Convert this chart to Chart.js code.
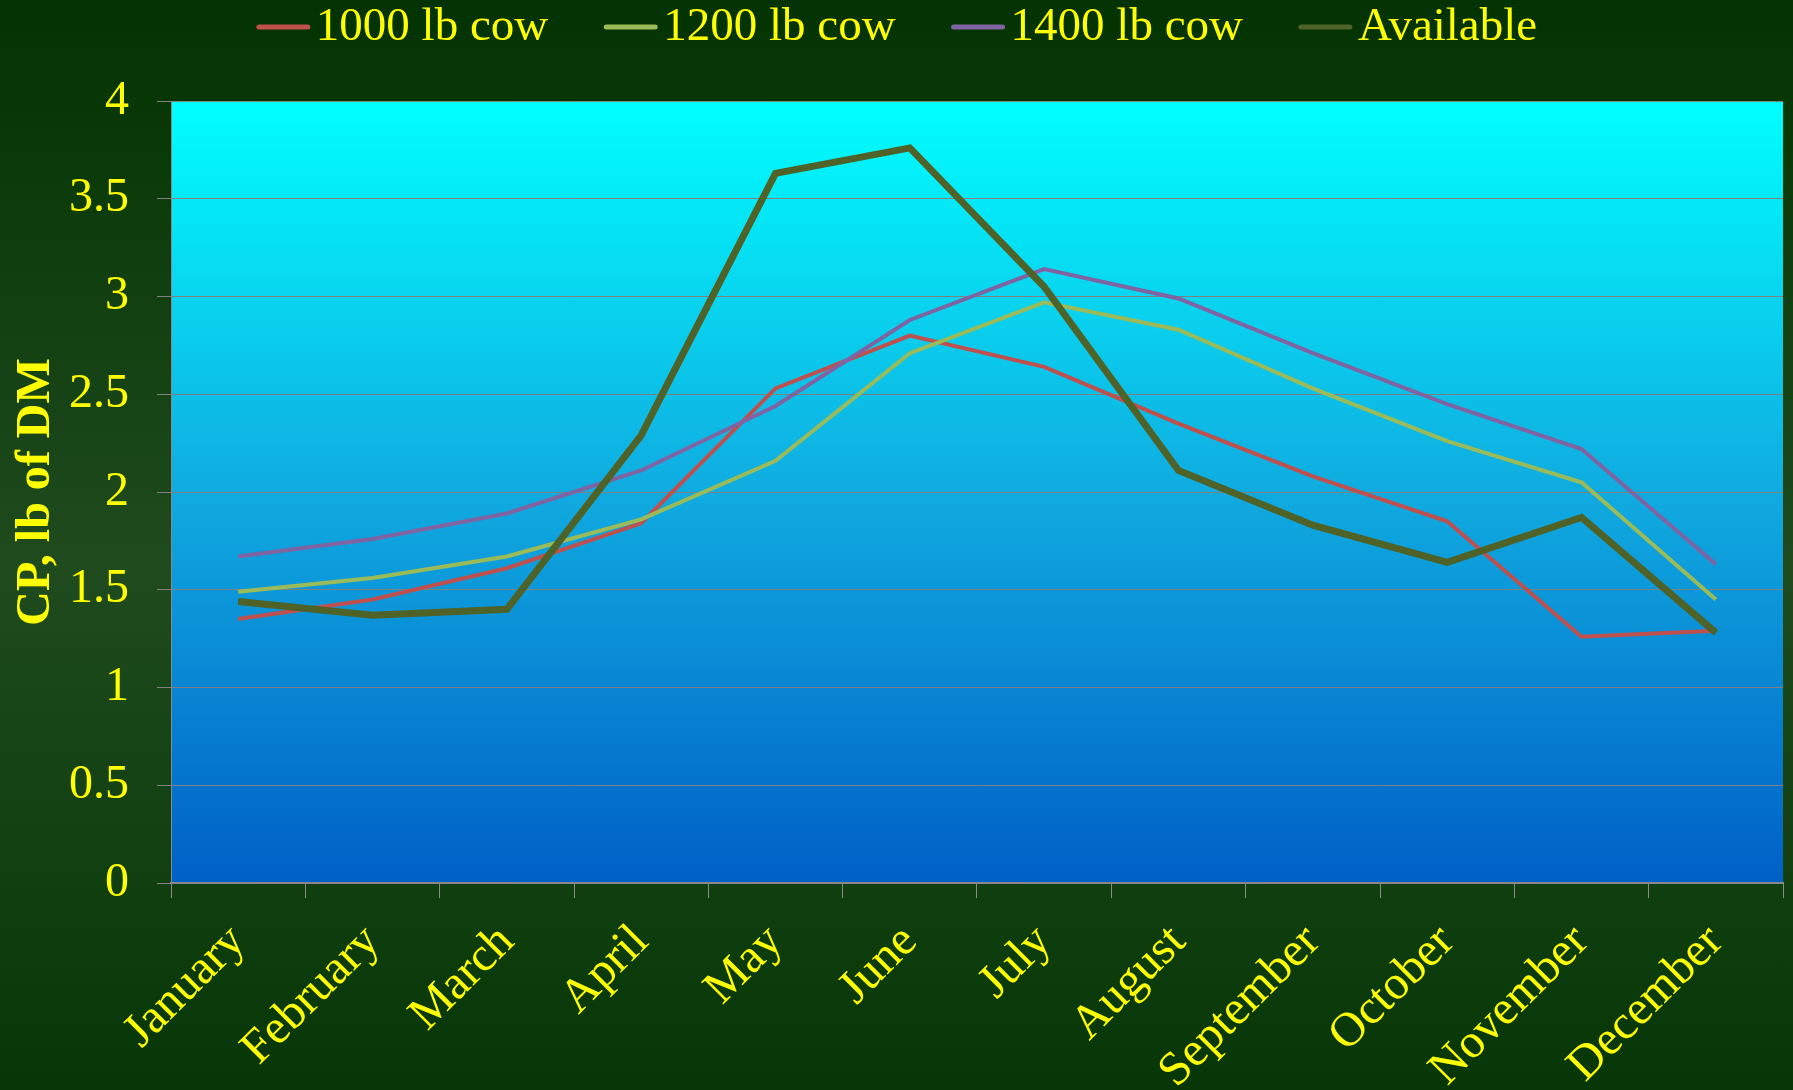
<!DOCTYPE html>
<html>
<head>
<meta charset="utf-8">
<title>CP, lb of DM</title>
<script src="https://cdn.jsdelivr.net/npm/chart.js@4.4.0/dist/chart.umd.min.js"></script>
<style>
  html, body { margin: 0; padding: 0; width: 1793px; height: 1090px; overflow: hidden; }
  body { background: linear-gradient(to bottom, #033300 0%, #1f4b1f 52%, #073706 100%); }
  #wrap { position: relative; width: 1793px; height: 1090px; }
  canvas { display: block; }
</style>
</head>
<body>
<div id="wrap"><canvas id="c" width="1793" height="1090"></canvas></div>
<script>
// Monthly crude protein (lb of DM): requirement by cow size vs. forage available
const months = ['January', 'February', 'March', 'April', 'May', 'June',
                'July', 'August', 'September', 'October', 'November', 'December'];
const cow1000 = [1.35, 1.45, 1.61, 1.84, 2.53, 2.80, 2.64, 2.35, 2.08, 1.85, 1.26, 1.29];
const cow1200 = [1.49, 1.56, 1.67, 1.86, 2.16, 2.71, 2.97, 2.83, 2.53, 2.26, 2.05, 1.45];
const cow1400 = [1.67, 1.76, 1.89, 2.11, 2.44, 2.88, 3.14, 2.99, 2.71, 2.45, 2.22, 1.63];
const available = [1.44, 1.37, 1.40, 2.29, 3.63, 3.76, 3.05, 2.11, 1.83, 1.64, 1.87, 1.28];
const seriesNames = ['1000 lb cow', '1200 lb cow', '1400 lb cow', 'Available'];
const yTicks = [0, 0.5, 1, 1.5, 2, 2.5, 3, 3.5, 4];
const yTickLabels = ['0', '0.5', '1', '1.5', '2', '2.5', '3', '3.5', '4'];

const YELLOW = '#FFFF00';
const FONT = '"Liberation Serif", "Times New Roman", Times, serif';

// Cyan-to-blue gradient behind the plot area
const plotBackground = {
  id: 'plotBackground',
  beforeDraw(chart) {
    const { ctx, chartArea: a } = chart;
    const g = ctx.createLinearGradient(0, a.top, 0, a.bottom);
    g.addColorStop(0, '#00FFFF');
    g.addColorStop(0.5, '#10ABE0');
    g.addColorStop(1, '#0060C6');
    ctx.save();
    ctx.fillStyle = g;
    ctx.fillRect(a.left, a.top, a.right - a.left, a.bottom - a.top);
    ctx.restore();
  }
};

// Single-row legend centred above the plot: short line swatch, then the label
const lineLegend = {
  id: 'lineLegend',
  afterDraw(chart) {
    const { ctx } = chart;
    const fontSize = 47, swatch = 55, swatchGap = 5, itemGap = 55, cy = 27;
    ctx.save();
    ctx.font = fontSize + 'px ' + FONT;
    const items = chart.data.datasets.map(ds => ({
      text: ds.label, color: ds.borderColor, w: ctx.measureText(ds.label).width
    }));
    const total = items.reduce((s, it) => s + swatch + swatchGap + it.w, 0) + itemGap * (items.length - 1);
    let x = (chart.width - total) / 2;
    items.forEach(it => {
      ctx.strokeStyle = it.color;
      ctx.lineWidth = 5;
      ctx.lineCap = 'round';
      ctx.beginPath();
      ctx.moveTo(x + 3, cy);
      ctx.lineTo(x + swatch - 3, cy);
      ctx.stroke();
      ctx.fillStyle = YELLOW;
      ctx.textBaseline = 'middle';
      ctx.textAlign = 'left';
      ctx.fillText(it.text, x + swatch + swatchGap, cy + 1);
      x += swatch + swatchGap + it.w + itemGap;
    });
    ctx.restore();
  }
};

const line = (label, data, color, width, order) => ({
  label, data, borderColor: color, backgroundColor: color,
  borderWidth: width, pointRadius: 0, pointHoverRadius: 0,
  tension: 0, fill: false, order
});

new Chart(document.getElementById('c'), {
  type: 'line',
  data: {
    labels: months,
    datasets: [
      line(seriesNames[0], cow1000, '#C0504D', 4, 3),
      line(seriesNames[1], cow1200, '#9BBB59', 4, 2),
      line(seriesNames[2], cow1400, '#8064A2', 4, 1),
      line(seriesNames[3], available, '#4F6228', 7, 0)
    ]
  },
  options: {
    responsive: false,
    animation: false,
    devicePixelRatio: 1,
    layout: { padding: { top: 101, right: 10, left: 0, bottom: 0 } },
    plugins: { legend: { display: false }, tooltip: { enabled: false } },
    scales: {
      x: {
        offset: true,
        grid: { display: true, drawOnChartArea: false, drawTicks: true, tickLength: 15, offset: true, color: '#8a8a8a', lineWidth: 1 },
        border: { display: true, color: '#8a8a8a', width: 2 },
        ticks: {
          color: YELLOW, font: { family: FONT, size: 48 },
          maxRotation: 45, minRotation: 45, autoSkip: false, padding: 16
        },
        afterFit(scale) { scale.height = 207; }
      },
      y: {
        min: 0, max: 4,
        afterBuildTicks(scale) { scale.ticks = yTicks.map(v => ({ value: v })); },
        grid: { color: '#808080', lineWidth: 1, tickLength: 14, drawTicks: true },
        border: { display: true, color: '#8a8a8a', width: 1 },
        ticks: {
          color: YELLOW, font: { family: FONT, size: 48 }, padding: 28,
          callback: (value, index) => yTickLabels[index]
        },
        title: {
          display: true, text: 'CP, lb of DM', color: YELLOW,
          font: { family: FONT, size: 48, weight: 'bold' },
          padding: { top: 8, bottom: 0 }
        },
        afterFit(scale) { scale.width = 171; }
      }
    }
  },
  plugins: [plotBackground, lineLegend]
});
</script>
</body>
</html>
